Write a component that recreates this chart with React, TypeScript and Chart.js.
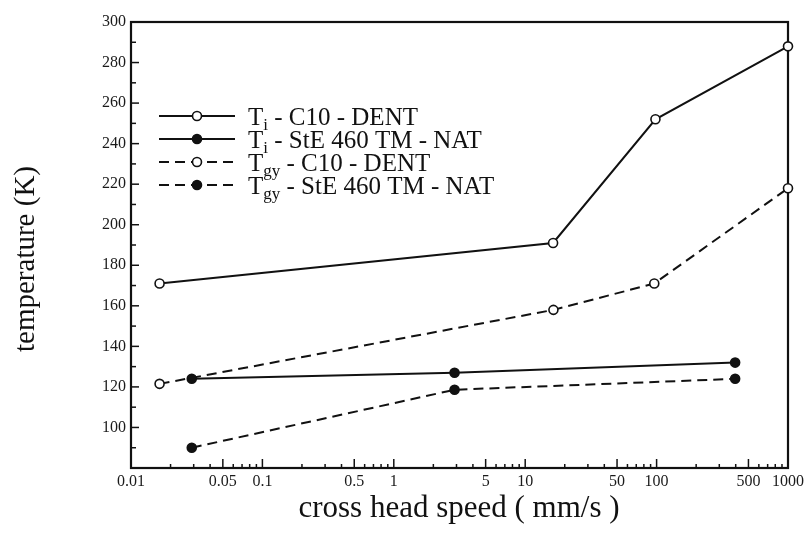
import React, { useEffect, useRef } from "react";
import { Chart, registerables } from "chart.js";

Chart.register(...registerables);

const FONT = '"Liberation Serif", "DejaVu Serif", "Times New Roman", serif';

// ---- data ----
const xTickLabels = [0.01, 0.05, 0.1, 0.5, 1, 5, 10, 50, 100, 500, 1000];
const yTickLabels = [100, 120, 140, 160, 180, 200, 220, 240, 260, 280, 300];

const tiC10Speed = [0.0165, 16.3, 98, 1000];
const tiC10Temp = [171, 191, 252, 288];

const tiSteSpeed = [0.029, 2.9, 396];
const tiSteTemp = [124, 127, 132];

const tgyC10Speed = [0.0165, 16.4, 96, 1000];
const tgyC10Temp = [121.5, 158, 171, 218];

const tgySteSpeed = [0.029, 2.9, 396];
const tgySteTemp = [90, 118.6, 124];

const seriesLabels = [
  { main: "T", sub: "i", rest: " - C10 - DENT" },
  { main: "T", sub: "i", rest: " - StE 460 TM - NAT" },
  { main: "T", sub: "gy", rest: " - C10 - DENT" },
  { main: "T", sub: "gy", rest: " - StE 460 TM - NAT" },
];

const xTitle = "cross head speed ( mm/s )";
const yTitle = "temperature (K)";

const toPoints = (xs: number[], ys: number[]) => xs.map((x, i) => ({ x, y: ys[i] }));

const DASH = [10, 6];

const seriesStyle = [
  { dash: [] as number[], fill: "#ffffff" },
  { dash: [] as number[], fill: "#111111" },
  { dash: DASH, fill: "#ffffff" },
  { dash: DASH, fill: "#111111" },
];

const decorations = {
  id: "decorations",
  beforeDatasetsDraw(chart: any) {
    const { ctx, chartArea: a, scales } = chart;
    const xs = scales.x;
    const ys = scales.y;
    ctx.save();
    ctx.strokeStyle = "#111";
    ctx.lineWidth = 1.5;
    // x ticks (inward)
    for (let d = -2; d <= 3; d++) {
      for (let m = 1; m <= 9; m++) {
        const v = m * Math.pow(10, d);
        if (v > 1000.0001) continue;
        const px = xs.getPixelForValue(v);
        if (px < a.left + 1 || px > a.right - 1) continue;
        const major = xTickLabels.some((t) => Math.abs(t - v) / t < 1e-6);
        const len = major ? 9 : 4;
        ctx.beginPath();
        ctx.moveTo(px, a.bottom);
        ctx.lineTo(px, a.bottom - len);
        ctx.stroke();
      }
    }
    // y ticks (inward)
    for (let v = 90; v < 300; v += 10) {
      const py = ys.getPixelForValue(v);
      const len = v % 20 === 0 ? 8 : 5;
      ctx.beginPath();
      ctx.moveTo(a.left, py);
      ctx.lineTo(a.left + len, py);
      ctx.stroke();
    }
    // frame
    ctx.lineWidth = 2.2;
    ctx.strokeRect(a.left, a.top, a.right - a.left, a.bottom - a.top);
    ctx.restore();
  },
  afterDraw(chart: any) {
    const { ctx } = chart;
    ctx.save();
    ctx.fillStyle = "#111";
    ctx.strokeStyle = "#111";
    // legend
    const rows = [116, 139, 162, 185];
    seriesLabels.forEach((lab, i) => {
      const y = rows[i];
      const st = seriesStyle[i];
      ctx.lineWidth = 2;
      ctx.setLineDash(st.dash);
      ctx.beginPath();
      ctx.moveTo(159, y);
      ctx.lineTo(235, y);
      ctx.stroke();
      ctx.setLineDash([]);
      ctx.beginPath();
      ctx.arc(197, y, 4.5, 0, Math.PI * 2);
      ctx.fillStyle = st.fill;
      ctx.fill();
      ctx.lineWidth = 1.6;
      ctx.stroke();
      ctx.fillStyle = "#111";
      let x = 248;
      const base = y + 9;
      ctx.textBaseline = "alphabetic";
      ctx.textAlign = "left";
      ctx.font = `25px ${FONT}`;
      ctx.fillText(lab.main, x, base);
      x += ctx.measureText(lab.main).width;
      ctx.font = `17px ${FONT}`;
      ctx.fillText(lab.sub, x, base + 5);
      x += ctx.measureText(lab.sub).width;
      ctx.font = `25px ${FONT}`;
      ctx.fillText(lab.rest, x, base);
    });
    // axis titles
    ctx.textAlign = "center";
    ctx.textBaseline = "middle";
    ctx.font = `31px ${FONT}`;
    ctx.fillText(xTitle, 459, 509);
    ctx.font = `29px ${FONT}`;
    ctx.translate(26, 259);
    ctx.rotate(-Math.PI / 2);
    ctx.fillText(yTitle, 0, 0);
    ctx.restore();
  },
};

export default function App() {
  const ref = useRef<HTMLCanvasElement | null>(null);
  useEffect(() => {
    if (!ref.current) return;
    const datasets = [
      toPoints(tiC10Speed, tiC10Temp),
      toPoints(tiSteSpeed, tiSteTemp),
      toPoints(tgyC10Speed, tgyC10Temp),
      toPoints(tgySteSpeed, tgySteTemp),
    ].map((data, i) => ({
      label: seriesLabels[i].main + seriesLabels[i].sub + seriesLabels[i].rest,
      data,
      borderColor: "#111",
      borderWidth: 2,
      borderDash: seriesStyle[i].dash,
      pointRadius: 4.5,
      pointBorderWidth: 1.6,
      pointBackgroundColor: seriesStyle[i].fill,
      pointBorderColor: "#111",
      tension: 0,
      clip: false as any,
    }));
    const chart = new Chart(ref.current, {
      type: "line",
      data: { datasets },
      plugins: [decorations],
      options: {
        animation: false,
        responsive: false,
        devicePixelRatio: 1,
        layout: { padding: { left: 0, right: 16, top: 22, bottom: 0 } },
        plugins: {
          legend: { display: false },
          tooltip: { enabled: false },
          title: { display: false },
        },
        scales: {
          x: {
            type: "logarithmic",
            min: 0.01,
            max: 1000,
            grid: { display: false, drawTicks: false },
            border: { display: false },
            afterBuildTicks: (s: any) => {
              s.ticks = xTickLabels.map((v) => ({ value: v }));
            },
            afterFit: (s: any) => {
              s.height = 65;
            },
            ticks: {
              autoSkip: false,
              maxRotation: 0,
              padding: 4,
              color: "#1a1a1a",
              font: { family: FONT, size: 16 },
              callback: (v: any) => String(v),
            },
          },
          y: {
            type: "linear",
            min: 80,
            max: 300,
            grid: { display: false, drawTicks: false },
            border: { display: false },
            afterBuildTicks: (s: any) => {
              s.ticks = yTickLabels.map((v) => ({ value: v }));
            },
            afterFit: (s: any) => {
              s.width = 131;
            },
            ticks: {
              autoSkip: false,
              padding: 5,
              color: "#1a1a1a",
              font: { family: FONT, size: 16 },
              callback: (v: any) => String(v),
            },
          },
        },
      },
    });
    return () => chart.destroy();
  }, []);
  return (
    <div style={{ position: "fixed", left: 0, top: 0, width: 808, height: 533, background: "#fff" }}>
      <canvas ref={ref} width={808} height={533} style={{ width: 808, height: 533 }} />
    </div>
  );
}
